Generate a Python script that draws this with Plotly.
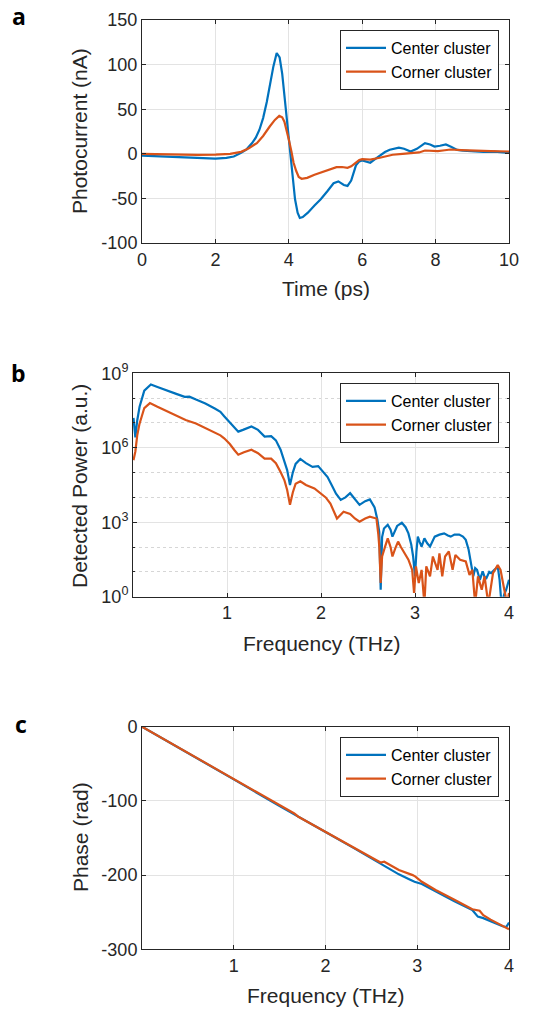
import plotly.graph_objects as go

# ---------------- Panel a: photocurrent vs time ----------------
time_center = [0, 0.5, 1, 1.5, 2, 2.3, 2.5, 2.7, 2.85, 3.0, 3.1, 3.2, 3.3, 3.4, 3.5, 3.58, 3.67, 3.75,
               3.82, 3.9, 3.96, 4.02, 4.09, 4.17, 4.24, 4.3, 4.38, 4.52, 4.7, 4.87, 5.05, 5.22, 5.35,
               5.5, 5.6, 5.7, 5.83, 5.92, 6.0, 6.1, 6.22, 6.35, 6.48, 6.62, 6.75, 6.9, 7.0, 7.14, 7.32,
               7.49, 7.6, 7.71, 7.85, 7.97, 8.12, 8.28, 8.42, 8.59, 8.75, 8.94, 9.3, 9.6, 10]
current_center = [-2, -3, -4, -5, -5.5, -4.5, -3, 1, 5, 12, 18, 27, 40, 58, 80, 98, 113, 108,
                  90, 58, 34, 8, -18, -51, -66, -72, -71, -66, -58, -51, -42, -33, -31,
                  -35, -36, -30, -13, -8.5, -7.5, -8.5, -10, -6, -2, 2, 4.5, 6.5, 7, 5.6, 2.6,
                  5.6, 9, 12, 10.5, 8.1, 9, 10.5, 8, 4.4, 3.5, 3, 2, 2.5, 1]

time_corner = [0, 0.5, 1, 1.5, 2, 2.4, 2.7, 2.9, 3.13, 3.3, 3.48, 3.62, 3.74, 3.82, 3.88, 3.95, 4.0,
               4.07, 4.13, 4.2, 4.27, 4.35, 4.5, 4.7, 4.87, 5.04, 5.3, 5.45, 5.6, 5.7, 5.82, 5.92,
               6.0, 6.22, 6.48, 6.83, 7.1, 7.36, 7.55, 7.71, 7.9, 8.06, 8.25, 8.41, 8.7, 8.94, 9.5, 10]
current_corner = [0, -0.5, -1, -1.2, -1, 0, 2.2, 6, 12, 20, 30.6, 38, 42.5, 41, 36, 26, 16,
                  3, -10, -19, -26, -28, -27, -23.5, -21, -18, -15, -14.8, -15.7, -14, -9.7, -7,
                  -6, -6.5, -4.4, -1.1, 0, 0.7, 1.5, 3.7, 3.5, 3, 4, 4.8, 4.2, 3.7, 3, 2.6]

# ---------------- Panel b: detected power (read in decades, log10) ----------------
freq_b_center = [0.005, 0.025, 0.045, 0.07, 0.12, 0.19, 0.26, 0.36, 0.46, 0.55, 0.6, 0.67, 0.77, 0.87,
                 0.93, 0.97, 1.03, 1.08, 1.12, 1.17, 1.26, 1.33, 1.4, 1.47, 1.52, 1.57, 1.61, 1.64,
                 1.67, 1.7, 1.73, 1.78, 1.84, 1.91, 1.97, 2.02, 2.07, 2.12, 2.16, 2.21, 2.26, 2.31,
                 2.36, 2.41, 2.47, 2.52, 2.57, 2.6, 2.62, 2.635, 2.65, 2.67, 2.71, 2.74, 2.76, 2.79,
                 2.81, 2.86, 2.9, 2.93, 2.96, 2.98, 3.0, 3.015, 3.03, 3.05, 3.07, 3.1, 3.13, 3.16,
                 3.19, 3.21, 3.26, 3.31, 3.35, 3.38, 3.42, 3.47, 3.51, 3.54, 3.57, 3.59, 3.62, 3.64,
                 3.66, 3.69, 3.72, 3.74, 3.76, 3.79, 3.81, 3.85, 3.88, 3.9, 3.92, 3.95, 3.97, 4.0]
power_center_decades = [7.2, 6.42, 7.1, 7.65, 8.3, 8.55, 8.45, 8.3, 8.17, 8.05, 8.06, 7.94, 7.78, 7.58,
                        7.45, 7.27, 7.03, 6.8, 6.65, 6.72, 6.86, 6.72, 6.45, 6.47, 6.3, 5.92, 5.5, 5.1,
                        4.5, 5.0, 5.35, 5.55, 5.38, 5.23, 5.26, 5.05, 4.82, 4.45, 4.15, 3.9, 4.0, 4.17,
                        3.92, 3.7, 3.85, 3.92, 3.6, 3.1, 2.6, 0.28, 2.4, 2.75, 2.9, 2.7, 2.42, 2.7,
                        2.85, 2.98, 2.8, 2.55, 2.1, 1.62, 0.82, 1.8, 2.42, 2.2, 2.02, 2.35, 2.15, 2.02,
                        2.3, 2.42, 2.5, 2.55, 2.47, 2.42, 2.5, 2.5, 2.42, 2.29, 1.9, 1.49, 0.82, 1.15,
                        1.08, 0.68, 1.02, 0.8, 0.75, 1.0, 0.95, 1.1, 1.22, 0.68, -0.3, 0.1, 0.28, 0.68]

freq_b_corner = [0.005, 0.025, 0.045, 0.068, 0.12, 0.18, 0.26, 0.36, 0.46, 0.56, 0.67, 0.77, 0.87, 0.93,
                 0.97, 1.03, 1.08, 1.12, 1.18, 1.26, 1.33, 1.4, 1.47, 1.52, 1.57, 1.61, 1.64, 1.67,
                 1.7, 1.73, 1.78, 1.84, 1.93, 2.0, 2.05, 2.1, 2.17, 2.24, 2.28, 2.31, 2.36, 2.41,
                 2.47, 2.52, 2.56, 2.59, 2.61, 2.62, 2.635, 2.65, 2.68, 2.71, 2.74, 2.76, 2.79, 2.82,
                 2.85, 2.88, 2.93, 2.97, 2.99, 3.01, 3.04, 3.07, 3.1, 3.12, 3.16, 3.19, 3.24, 3.26,
                 3.29, 3.32, 3.36, 3.4, 3.43, 3.48, 3.54, 3.58, 3.61, 3.64, 3.67, 3.71, 3.74, 3.78,
                 3.83, 3.88, 3.91, 3.95, 3.98, 4.0]
power_corner_decades = [5.5, 5.85, 6.5, 6.95, 7.6, 7.8, 7.65, 7.48, 7.3, 7.12, 6.98, 6.8, 6.62, 6.5,
                        6.38, 6.15, 5.9, 5.72, 5.82, 5.92, 5.78, 5.56, 5.56, 5.38, 5.02, 4.7, 4.3, 3.7,
                        4.2, 4.55, 4.65, 4.5, 4.36, 4.15, 4.0, 3.75, 3.15, 3.42, 3.38, 3.33, 3.15, 3.02,
                        3.15, 3.22, 3.18, 3.15, 2.5, 2.02, 0.55, 1.62, 2.0, 2.35, 2.0, 1.62, 1.95, 2.22,
                        2.0, 1.82, 1.49, 1.08, 0.15, 1.22, 0.55, 1.08, -0.3, 1.22, 0.82, 1.62, 1.08, 1.75,
                        0.82, 1.62, 1.82, 1.08, 1.68, 1.49, 1.42, 0.88, 1.08, -0.3, 0.82, 0.28, 0.82, -0.3,
                        0.95, 1.28, 1.08, 0.28, -0.3, 0.15]

# ---------------- Panel c: phase ----------------
freq_c_center = [0, 0.5, 1.0, 1.5, 1.68, 2.0, 2.3, 2.6, 2.65, 2.7, 2.8, 2.9, 2.97, 3.05, 3.2, 3.4,
                 3.6, 3.63, 3.66, 3.72, 3.8, 3.86, 3.93, 3.97, 3.99, 4.0]
phase_center = [0, -35, -71, -107, -120, -142, -163, -185, -189, -192, -199, -205, -209, -212, -222,
                -235, -247, -252, -256, -258, -262, -266, -269, -270, -266, -264]
freq_c_corner = [0, 0.5, 1.0, 1.5, 1.66, 1.7, 2.0, 2.3, 2.6, 2.64, 2.7, 2.8, 2.95, 2.98, 3.05, 3.2,
                 3.4, 3.6, 3.68, 3.72, 3.8, 3.9, 4.0]
phase_corner = [0, -35, -71, -106, -117, -121, -142, -163, -183, -182, -186, -193, -200, -202, -209,
                -220, -233, -246, -248, -254, -260, -266, -273]

series_names = ["Center cluster", "Corner cluster"]
colors = ["#0072BD", "#D95319"]

a_xticks = [0, 2, 4, 6, 8, 10]
a_yticks = [-100, -50, 0, 50, 100, 150]
b_xticks = [1, 2, 3, 4]
b_yticks = [1, 1e3, 1e6, 1e9]
b_yticktext = ["10<sup>0</sup>", "10<sup>3</sup>", "10<sup>6</sup>", "10<sup>9</sup>"]
b_minor = [10, 100, 1e4, 1e5, 1e7, 1e8]
c_xticks = [1, 2, 3, 4]
c_yticks = [-300, -200, -100, 0]

W, H = 543, 1014
FONT = "Arial, Liberation Sans, sans-serif"
AX = "#262626"
GRID = "#e3e3e3"


def px(x):
    return x / W


def py(y):
    return 1 - y / H


fig = go.Figure()

# panel a
fig.add_trace(go.Scatter(x=time_center, y=current_center, mode="lines", name=series_names[0],
                         line=dict(color=colors[0], width=2.2), xaxis="x", yaxis="y", legend="legend"))
fig.add_trace(go.Scatter(x=time_corner, y=current_corner, mode="lines", name=series_names[1],
                         line=dict(color=colors[1], width=2.2), xaxis="x", yaxis="y", legend="legend"))
# panel b
fig.add_trace(go.Scatter(x=freq_b_center, y=[10 ** e for e in power_center_decades], mode="lines",
                         name=series_names[0], line=dict(color=colors[0], width=2.2),
                         xaxis="x2", yaxis="y2", legend="legend2"))
fig.add_trace(go.Scatter(x=freq_b_corner, y=[10 ** e for e in power_corner_decades], mode="lines",
                         name=series_names[1], line=dict(color=colors[1], width=2.2),
                         xaxis="x2", yaxis="y2", legend="legend2"))
# panel c
fig.add_trace(go.Scatter(x=freq_c_center, y=phase_center, mode="lines", name=series_names[0],
                         line=dict(color=colors[0], width=2.2), xaxis="x3", yaxis="y3", legend="legend3"))
fig.add_trace(go.Scatter(x=freq_c_corner, y=phase_corner, mode="lines", name=series_names[1],
                         line=dict(color=colors[1], width=2.2), xaxis="x3", yaxis="y3", legend="legend3"))

common = dict(showline=True, linecolor=AX, linewidth=1, mirror="ticks", ticks="inside", ticklen=4,
              tickcolor=AX, showgrid=True, gridcolor=GRID, gridwidth=1, zeroline=False,
              automargin=False, tickfont=dict(family=FONT, size=18, color=AX))

fig.update_layout(
    template="none",
    width=W, height=H, margin=dict(l=0, r=0, t=0, b=0, pad=0, autoexpand=False),
    paper_bgcolor="white", plot_bgcolor="white",
    xaxis=dict(domain=[px(142), px(509)], anchor="y", range=[0, 10], tickvals=a_xticks,
               ticktext=[str(v) for v in a_xticks], **common),
    yaxis=dict(domain=[py(243), py(20)], anchor="x", range=[-100, 150], tickvals=a_yticks,
               ticktext=[str(v) for v in a_yticks], **common),
    xaxis2=dict(domain=[px(133), px(509)], anchor="y2", range=[0, 4], tickvals=b_xticks,
                ticktext=[str(v) for v in b_xticks], **common),
    yaxis2=dict(domain=[py(596.7), py(373.3)], anchor="x2", type="log", range=[0, 9],
                tickvals=b_yticks, ticktext=b_yticktext,
                minor=dict(tickvals=b_minor, showgrid=True, gridcolor="#d6d6d6", griddash="dot",
                           ticks="inside", ticklen=2, tickcolor=AX), **common),
    xaxis3=dict(domain=[px(142), px(509)], anchor="y3", range=[0, 4], tickvals=c_xticks,
                ticktext=[str(v) for v in c_xticks], **common),
    yaxis3=dict(domain=[py(949.3), py(726.7)], anchor="x3", range=[-300, 0], tickvals=c_yticks,
                ticktext=[str(v) for v in c_yticks], **common),
    showlegend=True,
)

leg = dict(xanchor="right", yanchor="top", bgcolor="white", bordercolor=AX, borderwidth=1,
           font=dict(family=FONT, size=16, color="#000000"), itemwidth=40,
           tracegroupgap=0)
fig.update_layout(
    legend=dict(x=px(499), y=py(30), **leg),
    legend2=dict(x=px(499), y=py(383), **leg),
    legend3=dict(x=px(499), y=py(737), **leg),
)

title_font = dict(family=FONT, size=21, color=AX)
letter_font = dict(family="Open Sans, DejaVu Sans, sans-serif", size=23, color="#000000")
annos = [
    dict(text="Time (ps)", x=px(326), y=py(288), font=title_font, textangle=0),
    dict(text="Photocurrent (nA)", x=px(79), y=py(131), font=title_font, textangle=-90),
    dict(text="Frequency (THz)", x=px(322), y=py(643), font=title_font, textangle=0),
    dict(text="Detected Power (a.u.)", x=px(79), y=py(486), font=title_font, textangle=-90),
    dict(text="Frequency (THz)", x=px(326), y=py(995), font=title_font, textangle=0),
    dict(text="Phase (rad)", x=px(80), y=py(837), font=title_font, textangle=-90),
    dict(text="<b>a</b>", x=px(19), y=py(16), font=letter_font, textangle=0),
    dict(text="<b>b</b>", x=px(18), y=py(373), font=letter_font, textangle=0),
    dict(text="<b>c</b>", x=px(21), y=py(724), font=letter_font, textangle=0),
]
for a in annos:
    fig.add_annotation(xref="paper", yref="paper", showarrow=False, xanchor="center",
                       yanchor="middle", **a)

fig.write_html("out.html", config={"displayModeBar": False},
               post_script="document.body.style.margin='0';document.body.style.overflow='hidden';")
